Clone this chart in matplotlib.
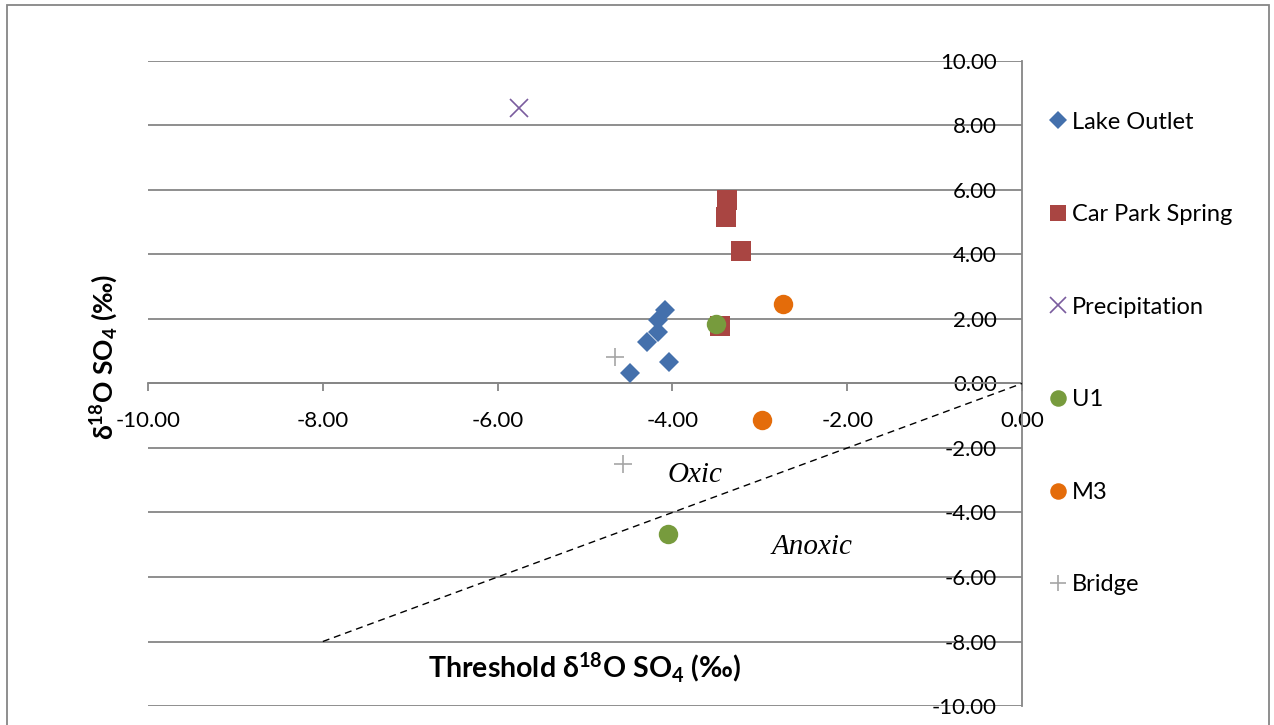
import matplotlib
matplotlib.use("Agg")
import matplotlib.pyplot as plt
from matplotlib.lines import Line2D
from matplotlib.patches import Rectangle

plt.rcParams['font.family'] = ['Lato', 'DejaVu Sans']
plt.rcParams['mathtext.fontset'] = 'custom'
plt.rcParams['mathtext.rm'] = 'Lato'
plt.rcParams['mathtext.bf'] = 'Lato:bold'
plt.rcParams['mathtext.it'] = 'Lato:italic'

# sample values, x = threshold d18O SO4, y = measured d18O SO4 (permil)
lake_x = [-4.49, -4.04, -4.29, -4.17, -4.17, -4.08]
lake_y = [0.33, 0.66, 1.29, 1.60, 1.96, 2.29]
carpark_x = [-3.38, -3.39, -3.21, -3.46]
carpark_y = [5.70, 5.15, 4.10, 1.78]
precip_x = [-5.76]
precip_y = [8.53]
u1_x = [-3.50, -4.05]
u1_y = [1.85, -4.68]
m3_x = [-2.74, -2.98]
m3_y = [2.48, -1.14]
bridge_x = [-4.66, -4.57]
bridge_y = [0.82, -2.51]

# oxic / anoxic boundary (1:1 line)
boundary_x = [-8, 0]
boundary_y = [-8, 0]

x_ticks = [-10, -8, -6, -4, -2, 0]
y_ticks = [-10, -8, -6, -4, -2, 0, 2, 4, 6, 8, 10]

GRID = '#868686'
series = [
    ('Lake Outlet', lake_x, lake_y, dict(marker='D', color='#4470AC', ms=10.2)),
    ('Car Park Spring', carpark_x, carpark_y, dict(marker='s', color='#A94542', ms=14)),
    ('Precipitation', precip_x, precip_y, dict(marker='x', color='#7A5C9E', ms=13, mew=1.2)),
    ('U1', u1_x, u1_y, dict(marker='o', color='#779B3D', ms=14)),
    ('M3', m3_x, m3_y, dict(marker='o', color='#E46C0A', ms=14)),
    ('Bridge', bridge_x, bridge_y, dict(marker='+', color='#A6A6A6', ms=13, mew=1.2)),
]

fig = plt.figure(figsize=(12.74, 7.25), dpi=100)
ax = fig.add_axes([0.1162, 0.0262, 0.686, 0.8897])

ax.plot(boundary_x, boundary_y, color='black', lw=1.0, ls=(0, (5, 3.5)), zorder=2)

handles = []
for name, xs, ys, st in series:
    ax.plot(xs, ys, ls='none', marker=st['marker'], color=st['color'],
            ms=st['ms'], mew=st.get('mew', 0), zorder=3, clip_on=False)
    handles.append(Line2D([], [], ls='none', marker=st['marker'], color=st['color'],
                          ms=st['ms'] * 0.85, mew=st.get('mew', 0), label=name))

ax.set_xlim(-10, 0)
ax.set_ylim(-10, 10)
ax.set_xticks(x_ticks)
ax.set_yticks(y_ticks)
ax.set_xticklabels([f'{v:.2f}' for v in x_ticks])
ax.set_yticklabels([f'{v:.2f}' for v in y_ticks])

# axes cross at the origin, like a spreadsheet scatter chart
ax.spines['bottom'].set_position(('data', 0))
ax.spines['left'].set_position(('data', 0))
ax.spines['top'].set_visible(False)
ax.spines['right'].set_visible(False)
for sp in ('bottom', 'left'):
    ax.spines[sp].set_color(GRID)
    ax.spines[sp].set_linewidth(1.3)
    ax.spines[sp].set_zorder(1)

ax.tick_params(axis='x', direction='out', length=6, width=1.3, color=GRID,
               labelsize=16, pad=13.5)
ax.tick_params(axis='y', length=0, labelsize=16, pad=18)
ax.grid(axis='y', color=GRID, lw=1.3, zorder=0)
ax.set_axisbelow(True)

ax.text(0.5, 0.06, r'Threshold $\mathbf{\delta^{18}O\ SO_4}$ (‰)',
        transform=ax.transAxes, ha='center', va='center',
        fontsize=20.5, fontweight='bold')
fig.text(0.082, 0.507, r'$\mathbf{\delta^{18}O\ SO_4}$ (‰)', rotation=90,
         ha='center', va='center', fontsize=19, fontweight='bold')

ax.text(-3.74, -2.84, 'Oxic', family='Liberation Serif', style='italic',
        fontsize=21, ha='center', va='center')
ax.text(-2.40, -5.07, 'Anoxic', family='Liberation Serif', style='italic',
        fontsize=21, ha='center', va='center')

fig.legend(handles=handles, loc='upper left', bbox_to_anchor=(0.8165, 0.859),
           frameon=False, fontsize=17, labelspacing=3.03, handlelength=0.7,
           handletextpad=0.25, borderaxespad=0)

# outer chart border
fig.patches.append(Rectangle((7 / 1274, -0.05), 1262 / 1274, 1.05 - 5 / 725,
                             transform=fig.transFigure, fill=False,
                             edgecolor=GRID, lw=1.3))

fig.savefig('out.png', dpi=100)
